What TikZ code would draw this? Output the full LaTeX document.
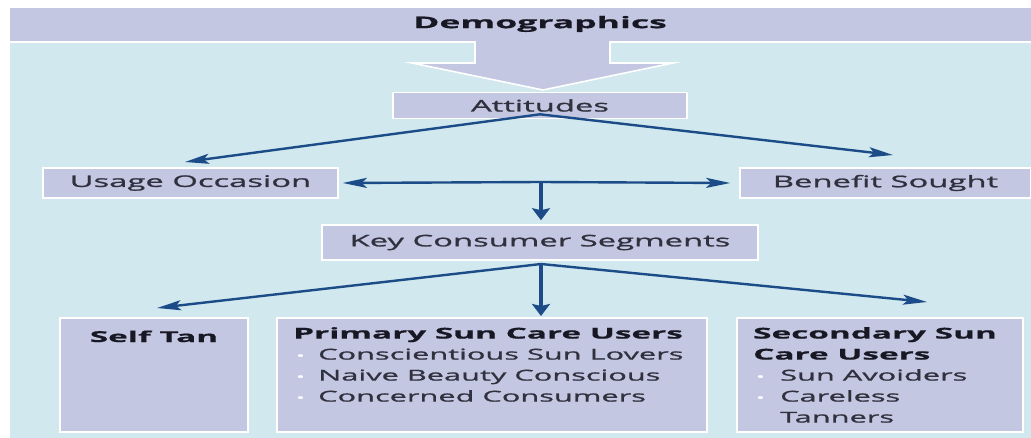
\documentclass[tikz,border=0pt]{standalone}
\usepackage{fontspec}
\setmainfont{Open Sans}[FakeStretch=2.05, FakeBold=1.2, BoldFeatures={FakeStretch=2.22, FakeBold=0.6}]
\usetikzlibrary{arrows.meta}
\definecolor{bg}{RGB}{208,232,238}
\definecolor{lav}{RGB}{196,199,225}
\definecolor{arr}{RGB}{28,76,136}
\definecolor{txt}{RGB}{48,48,62}
\definecolor{dtxt}{RGB}{24,24,36}
\begin{document}
\begin{tikzpicture}[x=1pt,y=-1pt,
  box/.style={draw=white, line width=1.6pt, fill=lav, inner sep=0pt},
  lbl/.style={font=\fontsize{16}{20}\selectfont, text=txt},
  seg/.style={font=\fontsize{15}{21}\selectfont, text=txt, align=left, anchor=north west, inner sep=0pt},
  conn/.style={draw=arr, line width=2.4pt, -{Stealth[length=24pt,width=10pt,inset=5pt]}},
  vconn/.style={draw=arr, line width=4pt, -{Stealth[length=12pt,width=18pt,inset=2pt]}}
]
\newcommand{\wdot}[1]{\makebox[#1][l]{\hspace{3pt}\textcolor{white}{\fontsize{11}{11}\selectfont\textbullet}}}
\useasboundingbox (0,0) rectangle (1031,438);
\fill[bg] (10,8) rectangle (1031,438);
\fill[lav] (10,8) rectangle (1031,41);
\draw[white, line width=1.6pt] (10,42) -- (1031,42);
\node[font=\fontsize{16}{20}\selectfont\bfseries, text=dtxt] (demo) at (540,24) {Demographics};
% block arrow
\filldraw[fill=lav, draw=white, line width=1.6pt]
  (475,43) -- (475,63) -- (412,63) -- (543,90) -- (673,63) -- (610,63) -- (610,43);
\fill[lav] (476,40) rectangle (609,44);
% boxes
\node[box, minimum width=294pt, minimum height=26pt, lbl] (att) at (540,105.5) {Attitudes};
\node[box, minimum width=295pt, minimum height=30pt, lbl] (usage) at (190.5,183) {Usage Occasion};
\node[box, minimum width=291pt, minimum height=30pt, lbl] (benefit) at (885.5,183) {Benefit Sought};
\node[box, minimum width=436pt, minimum height=35pt, lbl] (key) at (540,242.5) {Key Consumer Segments};
\node[box, minimum width=188pt, minimum height=114pt] (self) at (154,375) {};
\node[box, minimum width=430pt, minimum height=114pt] (prim) at (492,375) {};
\node[box, minimum width=286pt, minimum height=114pt] (sec) at (880,375) {};
\node[font=\fontsize{15}{20}\selectfont\bfseries, text=dtxt, anchor=north] (selft) at (154,327) {Self Tan};
\node[seg] (primt) at (293,327) {{\bfseries\color{dtxt}Primary Sun Care Users}\\
  \wdot{25pt}Conscientious Sun Lovers\\
  \wdot{25pt}Naive Beauty Conscious\\
  \wdot{25pt}Concerned Consumers};
\node[seg] (sect) at (753,327) {{\bfseries\color{dtxt}Secondary Sun}\\
  {\bfseries\color{dtxt}Care Users}\\
  \wdot{27pt}Sun Avoiders\\
  \wdot{27pt}Careless\\
  \makebox[27pt][l]{}Tanners};
% connector coordinates
\coordinate (attout) at ([yshift=5pt]att.south);
\coordinate (usagein) at (185,162);
\coordinate (benefitin) at (893,155);
\coordinate (hmid) at (541,182);
\coordinate (keyout) at (541,264);
\coordinate (selfin) at (157,308);
\coordinate (primin) at (541,316);
\coordinate (secin) at (927,302);
\draw[conn] (attout) -- (usagein);
\draw[conn] (attout) -- (benefitin);
\draw[conn] (hmid) -- ([xshift=4pt]usage.east);
\draw[conn] (hmid) -- ([xshift=-9pt]benefit.west);
\draw[vconn] (hmid) -- ([yshift=4pt]key.north -| hmid);
\draw[conn] (keyout) -- (selfin);
\draw[vconn] (keyout) -- (primin);
\draw[conn] (keyout) -- (secin);
\end{tikzpicture}
\end{document}
